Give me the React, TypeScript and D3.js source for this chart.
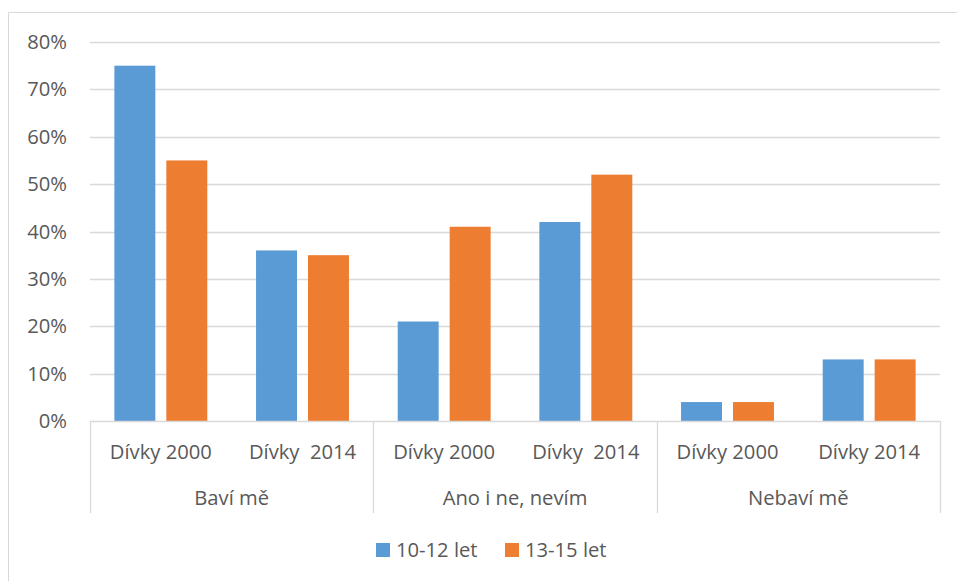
import React, { useEffect, useRef } from "react";
import * as d3 from "d3";

const groups = ["Baví mě", "Ano i ne, nevím", "Nebaví mě"];
const subLabels = [
  ["Dívky 2000", "Dívky  2014"],
  ["Dívky 2000", "Dívky  2014"],
  ["Dívky 2000", "Dívky 2014"],
];
const seriesNames = ["10-12 let", "13-15 let"];
const seriesColors = ["#5B9BD5", "#ED7D31"];
// values per group, per subcategory: [10-12, 13-15]
const age1012 = [75, 36, 21, 42, 4, 13];
const age1315 = [55, 35, 41, 52, 4, 13];
const yTicks = [0, 10, 20, 30, 40, 50, 60, 70, 80];

const App: React.FC = () => {
  const svgRef = useRef<SVGSVGElement>(null);

  useEffect(() => {
    const width = 957;
    const height = 581;
    const left = 90;
    const right = 940;
    const top = 42;
    const bottom = 421;

    const svg = d3.select(svgRef.current).attr("width", width).attr("height", height);
    svg.selectAll("*").remove();

    const font = "'Open Sans', 'Liberation Sans', sans-serif";
    const textColor = "#595959";
    const fs = 20.2;

    // chart frame (right/bottom are cut off)
    svg.append("line").attr("x1", 8.5).attr("x2", width).attr("y1", 12.5).attr("y2", 12.5)
      .attr("stroke", "#D9D9D9").attr("stroke-width", 1);
    svg.append("line").attr("x1", 8.5).attr("x2", 8.5).attr("y1", 12.5).attr("y2", height)
      .attr("stroke", "#D9D9D9").attr("stroke-width", 1);

    const y = d3.scaleLinear().domain([0, 80]).range([bottom, top]);

    const x0 = d3.scaleBand<string>().domain(groups).range([left, right]).padding(0);
    const subIdx = ["0", "1"];
    const x1 = d3.scaleBand<string>().domain(subIdx).range([0, x0.bandwidth()]).padding(0);
    const x2 = d3
      .scaleBand<string>()
      .domain(seriesNames)
      .range([0, x1.bandwidth()])
      .paddingInner(0.2115)
      .paddingOuter(0.469);

    // gridlines
    svg
      .append("g")
      .selectAll("line")
      .data(yTicks.filter((t) => t > 0))
      .enter()
      .append("line")
      .attr("x1", left)
      .attr("x2", right)
      .attr("y1", (d) => Math.round(y(d)) + 0.5)
      .attr("y2", (d) => Math.round(y(d)) + 0.5)
      .attr("stroke", "#D9D9D9")
      .attr("stroke-width", 1.3);

    // y labels
    svg
      .append("g")
      .selectAll("text")
      .data(yTicks)
      .enter()
      .append("text")
      .attr("x", 67)
      .attr("y", (d) => y(d))
      .attr("dy", "0.35em")
      .attr("text-anchor", "end")
      .attr("font-family", font)
      .attr("font-size", fs)
      .attr("fill", textColor)
      .text((d) => `${d}%`);

    // bars
    const seriesValues = [age1012, age1315];
    const barData: { g: string; s: string; series: string; color: string; v: number }[] = [];
    groups.forEach((g, gi) => {
      subIdx.forEach((s, si) => {
        seriesNames.forEach((name, k) => {
          barData.push({ g, s, series: name, color: seriesColors[k], v: seriesValues[k][gi * 2 + si] });
        });
      });
    });

    svg
      .append("g")
      .selectAll("rect")
      .data(barData)
      .enter()
      .append("rect")
      .attr("x", (d) => (x0(d.g) ?? 0) + (x1(d.s) ?? 0) + (x2(d.series) ?? 0))
      .attr("y", (d) => y(d.v))
      .attr("width", x2.bandwidth())
      .attr("height", (d) => y(0) - y(d.v))
      .attr("fill", (d) => d.color);

    // category axis
    const axisColor = "#D9D9D9";
    svg.append("line").attr("x1", left).attr("x2", right).attr("y1", bottom + 0.5).attr("y2", bottom + 0.5)
      .attr("stroke", axisColor).attr("stroke-width", 1.3);
    const seps = [...groups.map((g) => x0(g) ?? 0), right];
    svg
      .append("g")
      .selectAll("line")
      .data(seps)
      .enter()
      .append("line")
      .attr("x1", (d) => Math.round(d) + 0.5)
      .attr("x2", (d) => Math.round(d) + 0.5)
      .attr("y1", bottom)
      .attr("y2", 513)
      .attr("stroke", axisColor)
      .attr("stroke-width", 1.3);

    groups.forEach((g, gi) => {
      subIdx.forEach((s, si) => {
        svg
          .append("text")
          .attr("x", (x0(g) ?? 0) + (x1(s) ?? 0) + x1.bandwidth() / 2)
          .attr("y", 452)
          .attr("dy", "0.35em")
          .attr("text-anchor", "middle")
          .attr("font-family", font)
          .attr("font-size", fs)
          .attr("fill", textColor)
          .style("white-space", "pre")
          .text(subLabels[gi][si]);
      });
      svg
        .append("text")
        .attr("x", (x0(g) ?? 0) + x0.bandwidth() / 2)
        .attr("y", 498)
        .attr("dy", "0.35em")
        .attr("text-anchor", "middle")
        .attr("font-family", font)
        .attr("font-size", fs)
        .attr("fill", textColor)
        .text(g);
    });

    // legend
    const legendX = [376, 505];
    seriesNames.forEach((name, k) => {
      svg
        .append("rect")
        .attr("x", legendX[k])
        .attr("y", 543)
        .attr("width", 14)
        .attr("height", 14)
        .attr("fill", seriesColors[k]);
      svg
        .append("text")
        .attr("x", legendX[k] + 20)
        .attr("y", 550)
        .attr("dy", "0.35em")
        .attr("font-family", font)
        .attr("font-size", fs)
        .attr("fill", textColor)
        .text(name);
    });
  }, []);

  return (
    <div style={{ position: "absolute", left: 0, top: 0 }}>
      <svg ref={svgRef} style={{ display: "block" }}></svg>
    </div>
  );
};

export default App;
